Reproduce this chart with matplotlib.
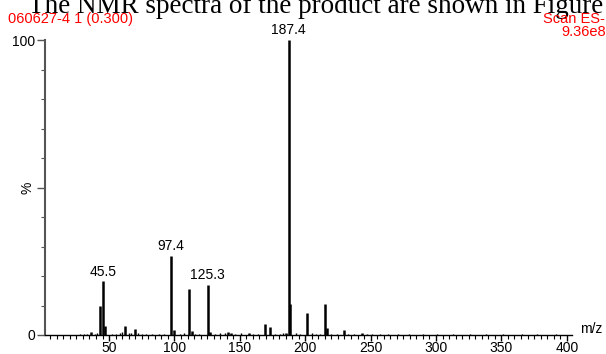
import matplotlib

matplotlib.use("Agg")
import matplotlib.pyplot as plt
from matplotlib.ticker import MultipleLocator

# peak list (m/z, relative intensity %)
peak_mz = [36.0, 43.2, 45.5, 46.5, 62.5, 69.5, 97.4, 99.4, 111.3, 113.3,
           125.3, 127.0, 141.0, 143.0, 157.0, 169.3, 173.3, 185.5, 187.4,
           188.4, 201.3, 215.3, 216.3, 229.3, 243.3]
peak_int = [1.0, 9.8, 18.2, 3.0, 3.0, 2.0, 26.8, 1.8, 15.5, 1.5,
            17.0, 1.0, 1.0, 0.8, 0.7, 3.8, 2.8, 0.8, 100.0,
            10.5, 7.6, 10.4, 2.5, 1.7, 0.6]

# small noise peaks along the baseline
noise_mz = [28, 31, 33, 39, 41, 52, 55, 58, 60, 65, 67, 72, 75, 78, 83, 88,
            92, 104, 107, 116, 119, 131, 135, 139, 146, 151, 160, 164, 177,
            181, 183, 193, 196, 205, 208, 211, 220, 224, 233, 237, 247, 251,
            257, 263, 271, 279, 290, 301, 313, 326, 338, 351, 366, 377, 392]
noise_int = [0.3, 0.4, 0.3, 0.5, 0.6, 0.4, 0.5, 0.6, 1.0, 0.8, 0.7, 0.6,
             0.5, 0.4, 0.5, 0.4, 0.3, 0.5, 0.6, 0.5, 0.4, 0.4, 0.6, 0.8,
             0.5, 0.6, 0.4, 0.5, 0.5, 0.4, 0.6, 0.6, 0.5, 0.6, 0.5, 0.4,
             0.5, 0.4, 0.4, 0.3, 0.4, 0.3, 0.3, 0.3, 0.3, 0.3, 0.2, 0.3,
             0.2, 0.3, 0.2, 0.2, 0.3, 0.3, 0.2]

labelled = {45.5: "45.5", 97.4: "97.4", 125.3: "125.3", 187.4: "187.4"}

plt.rcParams["font.family"] = ["Liberation Sans", "DejaVu Sans"]

fig = plt.figure(figsize=(6.06, 3.54), dpi=100)
ax = fig.add_axes([45 / 606, 19 / 354, 527 / 606, 295 / 354])

ax.vlines(noise_mz, 0, noise_int, color="black", lw=1.0)
ax.vlines(peak_mz, 0, peak_int, color="black", lw=1.8)

for mz, txt in labelled.items():
    h = peak_int[peak_mz.index(mz)]
    ax.annotate(txt, (mz, h), xytext=(0, 2), textcoords="offset points",
                ha="center", va="bottom", fontsize=10)

ax.set_xlim(1, 404)
ax.set_ylim(0, 100)

for side in ("top", "right"):
    ax.spines[side].set_visible(False)
ax.spines["left"].set_color("#555555")
ax.spines["left"].set_linewidth(1.5)
ax.spines["bottom"].set_color("black")
ax.spines["bottom"].set_linewidth(1.0)

ax.set_xticks([50, 100, 150, 200, 250, 300, 350, 400])
ax.xaxis.set_minor_locator(MultipleLocator(5))
ax.set_yticks([0, 50, 100])
ax.set_yticklabels(["0", "", "100"])
ax.yaxis.set_minor_locator(MultipleLocator(10))
ax.tick_params(axis="x", which="major", direction="out", length=4, width=1,
               labelsize=10, pad=0.5)
ax.tick_params(axis="x", which="minor", direction="out", length=3, width=0.8)
ax.tick_params(axis="y", which="major", direction="out", length=6, width=1,
               labelsize=10, pad=1, color="#555555")
ax.tick_params(axis="y", which="minor", direction="out", length=3, width=0.8,
               color="#555555")

ax.text(-0.02, 0.5, "%", transform=ax.transAxes, rotation=90,
        ha="right", va="center", fontsize=10)
ax.text(1.015, 0.02, "m/z", transform=ax.transAxes, ha="left",
        va="center", fontsize=10)

fig.text(28 / 606, 1 - 13 / 354, "The NMR spectra of the product are shown in Figure",
         family="Liberation Serif", fontsize=19.5, va="baseline", ha="left")
fig.text(8 / 606, 1 - 23 / 354, "060627-4 1 (0.300)", color="red",
         fontsize=10.5, va="baseline", ha="left")
fig.text(605 / 606, 1 - 23 / 354, "Scan ES-", color="red",
         fontsize=10.5, va="baseline", ha="right")
fig.text(1.0, 1 - 36 / 354, "9.36e8", color="red",
         fontsize=10.5, va="baseline", ha="right")

fig.savefig("out.png", dpi=100)
